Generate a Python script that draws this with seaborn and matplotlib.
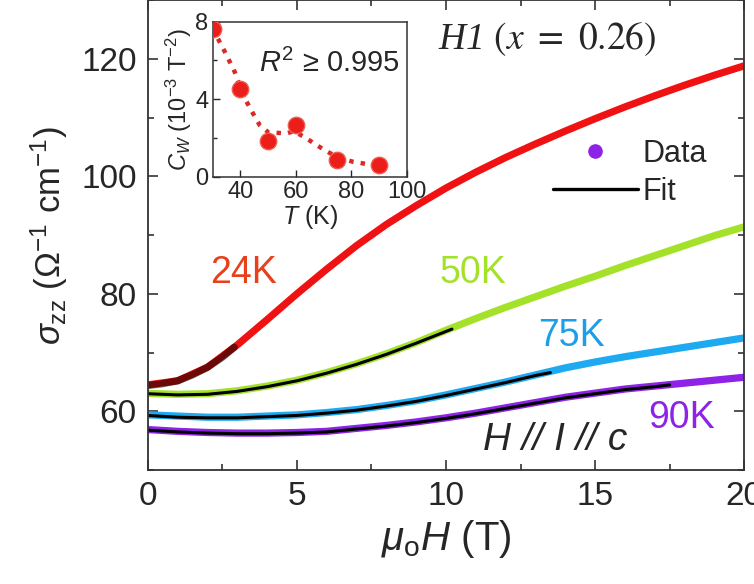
import matplotlib
matplotlib.use("Agg")
import matplotlib.pyplot as plt
import seaborn as sns
from matplotlib.lines import Line2D
from matplotlib.ticker import MultipleLocator

# ---- main panel: sigma_zz vs field ----
field = [0, 1, 2, 3, 4, 5, 6, 7, 8, 9, 10, 11, 12, 13, 14, 15, 16, 17, 18, 19, 20]

sig_24K = [64.5, 65.2, 67.5, 71.3, 75.6, 80.0, 84.2, 88.2, 91.8, 95.0, 98.0,
           100.7, 103.2, 105.5, 107.7, 109.8, 111.8, 113.7, 115.5, 117.2, 118.8]
sig_50K = [63.05, 62.9, 63.0, 63.5, 64.3, 65.3, 66.6, 68.1, 69.8, 71.7, 73.8,
           75.8, 77.7, 79.5, 81.3, 83.0, 84.8, 86.5, 88.2, 89.9, 91.4]
sig_75K = [59.4, 59.2, 59.0, 59.0, 59.2, 59.4, 59.8, 60.3, 61.0, 61.8, 62.8,
           63.9, 65.0, 66.2, 67.4, 68.4, 69.3, 70.1, 70.9, 71.7, 72.5]
sig_90K = [56.9, 56.6, 56.4, 56.3, 56.3, 56.4, 56.6, 57.1, 57.6, 58.2, 58.9,
           59.7, 60.6, 61.5, 62.4, 63.1, 63.8, 64.3, 64.8, 65.3, 65.8]

# fits (low field range only)
fit_24K_x = [0, 0.5, 1, 1.5, 2, 2.5, 2.9]
fit_24K_y = [64.4, 64.7, 65.2, 66.2, 67.5, 69.2, 70.9]
fit_50K_x = [0, 1, 2, 3, 4, 5, 6, 7, 8, 9, 10, 10.2]
fit_50K_y = [63.0, 62.8, 62.9, 63.4, 64.2, 65.2, 66.5, 68.0, 69.7, 71.6, 73.6, 74.0]
fit_75K_x = [0, 1, 2, 3, 4, 5, 6, 7, 8, 9, 10, 11, 12, 13, 13.5]
fit_75K_y = [59.3, 59.0, 58.9, 58.9, 59.1, 59.3, 59.7, 60.2, 60.9, 61.7, 62.7,
             63.8, 64.9, 66.1, 66.6]
fit_90K_x = [0, 1, 2, 3, 4, 5, 6, 7, 8, 9, 10, 11, 12, 13, 14, 15, 16, 17, 17.5]
fit_90K_y = [56.8, 56.5, 56.3, 56.2, 56.2, 56.3, 56.5, 57.0, 57.5, 58.1, 58.8,
             59.6, 60.5, 61.4, 62.3, 63.0, 63.7, 64.2, 64.5]

temps = ["24K", "50K", "75K", "90K"]
colors = ["#f01212", "#a4e22a", "#1eaaf0", "#8e22e6"]
label_colors = ["#e8401c", "#a4e22a", "#1e9ee8", "#8e22e6"]
label_x = [3.2, 10.9, 14.2, 17.9]
label_y = [83.6, 83.6, 72.8, 58.8]

# ---- inset: C_W vs T ----
inset_T = [30, 40, 50, 60, 75, 90]
inset_C = [7.65, 4.55, 1.85, 2.65, 0.85, 0.6]
guide_T = [30, 34.4, 38, 41, 45.2, 47, 50, 56.6, 59.3, 63.9, 67.5, 70.5, 75, 80.7, 86.7, 90]
guide_C = [7.65, 6.45, 5.4, 4.2, 3.1, 2.66, 2.3, 2.23, 2.35, 1.98, 1.63, 1.37, 1.0, 0.77, 0.63, 0.58]

sns.set_style("ticks")
plt.rcParams["font.family"] = ["Liberation Sans", "DejaVu Sans"]
plt.rcParams["mathtext.fontset"] = "custom"
plt.rcParams["mathtext.rm"] = "Liberation Sans"
plt.rcParams["mathtext.it"] = "Liberation Sans:italic"
plt.rcParams["mathtext.bf"] = "Liberation Sans:bold"

fig = plt.figure(figsize=(7.54, 5.84), dpi=100)
ax = fig.add_axes([0.196, 0.195, 0.791, 0.805])

data_sets = [sig_24K, sig_50K, sig_75K, sig_90K]
fits = [(fit_24K_x, fit_24K_y), (fit_50K_x, fit_50K_y),
        (fit_75K_x, fit_75K_y), (fit_90K_x, fit_90K_y)]

for sig, col in zip(data_sets, colors):
    sns.lineplot(x=field, y=sig, color=col, lw=5.2, ax=ax,
                 solid_capstyle="butt", solid_joinstyle="round")

for i, (fx, fy) in enumerate(fits):
    if i == 0:
        sns.lineplot(x=fx, y=fy, color="black", lw=5.2, alpha=0.55, ax=ax)
    else:
        sns.lineplot(x=fx, y=fy, color="black", lw=2.2, ax=ax)

for t, c, lx, ly in zip(temps, label_colors, label_x, label_y):
    ax.text(lx, ly, t, color=c, fontsize=27, ha="center", va="center")

ax.text(13.65, 55.1, "H // I // c", fontsize=28, style="italic",
        ha="center", va="center")
ax.text(13.4, 123.4, r"H1 $(x$ $=$ $0.26)$", fontsize=27, style="italic",
        family="Liberation Serif", math_fontfamily="stix",
        ha="center", va="center")

ax.set_xlim(0, 20)
ax.set_ylim(50, 130)
ax.xaxis.set_major_locator(MultipleLocator(5))
ax.xaxis.set_minor_locator(MultipleLocator(2.5))
ax.yaxis.set_major_locator(MultipleLocator(20))
ax.yaxis.set_minor_locator(MultipleLocator(10))
ax.tick_params(which="both", direction="in", top=True, right=True,
               labelsize=24, width=1.2, color="#333333", pad=8)
ax.tick_params(which="major", length=7)
ax.tick_params(which="minor", length=4)
for s in ax.spines.values():
    s.set_linewidth(1.3)
    s.set_color("#333333")

ax.set_xlabel(r"$\mu_{\rm o}H$ (T)", fontsize=29, labelpad=4)
ax.set_ylabel(r"$\sigma_{\rm zz}$ ($\Omega^{-1}$ cm$^{-1}$)", fontsize=25, labelpad=8)

handles = [
    Line2D([], [], ls="none", marker="o", markersize=9.5, color="#8e22e6"),
    Line2D([], [], color="black", lw=2.4),
]
ax.legend(handles, ["Data", "Fit"], loc="upper left", bbox_to_anchor=(0.653, 0.737),
          frameon=False, fontsize=22, handlelength=2.8, handletextpad=0.15,
          labelspacing=0.25, borderpad=0)

# ---- inset ----
ins = fig.add_axes([0.282, 0.6974, 0.2573, 0.2654])
sns.lineplot(x=guide_T, y=guide_C, ax=ins, color="#d82a26", lw=3.2,
             linestyle=(0, (1, 1.6)))
sns.scatterplot(x=inset_T, y=inset_C, ax=ins, color="#ec1e1a", s=140,
                edgecolor="#f05a50", linewidth=1, zorder=3)
ins.set_xlim(30, 100)
ins.set_ylim(0, 8)
ins.xaxis.set_major_locator(MultipleLocator(20))
ins.yaxis.set_major_locator(MultipleLocator(4))
ins.yaxis.set_minor_locator(MultipleLocator(2))
ins.tick_params(which="both", direction="in", labelsize=17, width=1, pad=3)
ins.tick_params(which="major", length=5)
ins.tick_params(which="minor", length=3)
for s in ins.spines.values():
    s.set_linewidth(1.1)
    s.set_color("#333333")
ins.set_xlabel(r"$T$ (K)", fontsize=18, labelpad=0)
ins.set_ylabel(r"$C_W$ (10$^{-3}$ T$^{-2}$)", fontsize=17, labelpad=1)
ins.text(0.6, 0.73, r"$R^2$ ≥ 0.995", transform=ins.transAxes,
         fontsize=21, ha="center", va="center")

fig.savefig("out.png", dpi=100)
